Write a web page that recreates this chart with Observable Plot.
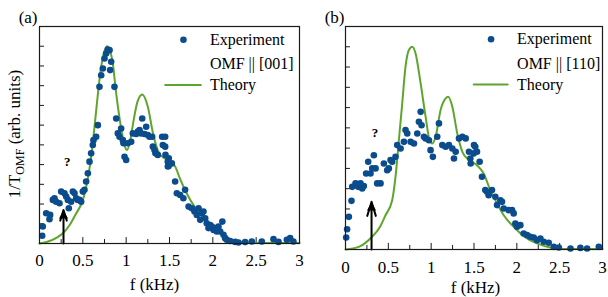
<!DOCTYPE html>
<html><head><meta charset="utf-8">
<script src="https://cdn.jsdelivr.net/npm/d3@7"></script>
<script src="https://cdn.jsdelivr.net/npm/@observablehq/plot@0.6"></script>
<style>
body{margin:0;background:#fff;}
#wrap{position:relative;width:608px;height:297px;}
#pa{position:absolute;left:0;top:0;z-index:2;}
#pb{position:absolute;left:300px;top:0;z-index:1;}
svg{overflow:visible;background:none !important;}
svg text{font-family:"Liberation Serif","Times New Roman",serif !important;}
</style></head><body><div id="wrap"><div id="pa"></div><div id="pb"></div></div>
<script>
// ---- data ----
const xMajor = [0, 0.5, 1, 1.5, 2, 2.5, 3];
const xMinor = [0.25, 0.75, 1.25, 1.75, 2.25, 2.75];
const yTicks = [1, 2, 3, 4, 5, 6, 7, 8, 9, 10];

// panel (a): OMF || [001]
const expA = [
[0.031,0.39],[0.038,0.86],[0.077,1.53],[0.123,1.45],[0.115,1.23],[0.154,2.21],[0.173,2.29],[0.192,2.12],
[0.231,2.04],[0.25,2.63],[0.288,2.55],[0.308,2.38],[0.338,1.79],[0.327,2.21],[0.365,2.12],[0.385,2.63],
[0.404,2.55],[0.423,2.29],[0.442,2.21],[0.462,2.21],[0.481,2.12],[0.5,2.63],[0.519,2.72],[0.538,3.14],
[0.558,3.56],[0.577,4.15],[0.596,4.57],[0.615,4.99],[0.623,5.24],[0.654,5.41],[0.673,6.0],[0.692,7.94],
[0.712,8.53],[0.731,8.87],[0.75,9.38],[0.769,9.63],[0.788,9.83],[0.808,9.8],[0.827,9.21],[0.815,8.79],
[0.865,7.94],[0.885,6.34],[0.904,5.58],[0.923,5.41],[0.942,5.83],[0.962,5.24],[0.969,5.08],[0.981,4.4],
[1.0,4.23],[1.019,5.08],[1.058,5.16],[1.077,5.58],[1.115,5.55],[1.135,5.67],[1.154,5.75],[1.185,6.34],
[1.173,5.58],[1.212,5.55],[1.231,5.92],[1.25,5.5],[1.269,5.41],[1.3,5.41],[1.308,4.91],[1.327,4.74],
[1.338,4.57],[1.365,4.49],[1.415,5.41],[1.423,4.99],[1.454,4.49],[1.481,3.9],[1.492,4.32],
[1.45,5.41],[1.45,4.91],[1.48,4.15],[1.49,3.93],[1.527,4.06],[1.565,3.14],[1.585,2.55],[1.623,2.46],
[1.66,2.29],[1.68,2.72],[1.72,1.87],[1.758,1.79],[1.788,1.62],[1.815,1.45],[1.835,1.79],[1.854,1.2],
[1.873,1.53],[1.892,1.62],[1.912,1.28],[1.93,1.03],[1.95,0.78],[1.97,0.94],[1.988,0.86],[2.008,0.69],
[2.027,0.78],[2.046,0.61],[2.065,0.86],[2.085,0.61],[2.11,1.11],[2.123,0.44],[2.142,0.27],[2.16,0.19],
[2.2,0.13],[2.258,0.08],[2.296,0.05],[2.373,0.07],[2.45,0.1],[2.565,0.1],[2.7,0.22],[2.758,0.08],
[2.854,0.19],[2.892,0.27],[2.93,0.1]
];
const theoryA = [
[0,0],[0.1,0.1],[0.2,0.3],[0.27,0.52],[0.35,0.95],[0.42,1.5],[0.5,2.2],[0.54,2.9],[0.58,3.9],
[0.62,5.3],[0.66,7.0],[0.7,8.6],[0.74,9.6],[0.78,10.0],[0.81,9.8],[0.84,9.3],[0.885,7.6],[0.94,5.9],
[0.98,5.0],[1.01,4.74],[1.05,5.3],[1.08,6.09],[1.13,7.18],[1.185,7.55],[1.25,6.93],[1.31,5.58],
[1.38,4.57],[1.45,4.3],[1.51,4.17],[1.565,3.9],[1.62,3.3],[1.68,2.7],[1.8,1.79],[1.91,1.2],[2.03,0.69],
[2.14,0.35],[2.26,0.13],[2.41,0.05],[2.6,0.02],[3.0,0.02]
];
const arrowA = [0.277, 1.7];

// panel (b): OMF || [110]
const expB = [
[0.008,0.59],[0.019,1.0],[0.039,1.61],[0.07,2.4],[0.078,3.09],[0.117,3.26],[0.148,3.09],[0.175,3.26],
[0.195,3.01],[0.214,3.13],[0.241,3.75],[0.265,4.33],[0.292,3.75],[0.312,4.0],[0.331,4.65],[0.351,4.0],
[0.37,3.26],[0.409,3.26],[0.448,4.24],[0.487,3.91],[0.506,4.0],[0.526,4.41],[0.545,4.33],[0.584,4.57],
[0.604,5.15],[0.643,4.98],[0.682,5.31],[0.701,5.89],[0.721,5.72],[0.76,5.31],[0.799,5.23],[0.838,5.72],
[0.857,6.3],[0.877,6.79],[0.888,6.13],[0.916,5.56],[0.935,5.48],[0.974,5.39],[0.993,4.9],[1.02,4.57],
[1.071,5.56],[1.091,6.22],[1.13,5.15],[1.169,5.07],[1.208,5.15],[1.247,4.98],[1.266,4.49],[1.286,4.82],
[1.325,5.48],[1.364,5.56],[1.403,5.48],[1.441,4.82],[1.461,4.24],[1.5,5.15],
[1.457,4.49],[1.496,4.74],[1.515,5.07],[1.535,4.82],[1.566,4.33],[1.593,3.59],[1.632,2.93],[1.652,2.85],
[1.671,2.68],[1.71,2.93],[1.749,2.6],[1.769,2.19],[1.808,2.43],[1.827,2.35],[1.847,2.02],[1.905,1.94],
[1.944,1.94],[1.963,1.78],[1.983,1.28],[2.003,1.12],[2.041,1.2],[2.08,0.79],[2.119,0.71],[2.158,0.63],
[2.197,0.59],[2.236,0.46],[2.275,0.54],[2.314,0.38],[2.372,0.33],[2.431,0.13],[2.49,0.1],[2.626,0.05],
[2.742,0.08],[2.82,0.05],[2.957,0.13]
];
const theoryB = [
[0,0],[0.156,0.13],[0.31,0.63],[0.4,1.1],[0.467,1.69],[0.545,2.43],[0.584,3.59],[0.623,5.39],
[0.662,7.2],[0.7,9.0],[0.74,9.84],[0.779,10],[0.818,9.67],[0.877,8.19],[0.935,6.55],[0.982,5.39],
[1.013,5.23],[1.052,5.56],[1.11,6.88],[1.169,7.45],[1.2,7.53],[1.247,7.04],[1.305,5.72],[1.364,4.82],
[1.441,4.41],[1.535,4.16],[1.613,3.75],[1.69,2.93],[1.769,2.27],[1.847,1.69],[1.963,1.12],[2.08,0.66],
[2.236,0.3],[2.39,0.1],[2.55,0.03],[3.0,0.02]
];
const arrowB = [0.304, 2.35];

const BLUE = "#0b4c8c";
const GREEN = "#5ea52e";
const FONT = "'Liberation Serif', 'Times New Roman', serif";

function makePanel(c) {
  const ink = "#1a1a1a";
  return Plot.plot({
    width: c.width, height: 297,
    marginLeft: c.ml, marginRight: c.mr, marginTop: 26, marginBottom: c.mb,
    style: {fontFamily: FONT, fontSize: "17px", color: "black", background: "none", overflow: "visible"},
    x: {domain: [0, 3], label: null},
    y: {domain: [0, 11], axis: null},
    marks: [
      Plot.ruleY(yTicks, {y: d => d, x1: 0, x2: 0.058, stroke: ink, strokeWidth: 1}),
      Plot.ruleX(xMajor.slice(1, -1), {x: d => d, y1: 0, y2: c.maj, stroke: ink, strokeWidth: 1}),
      Plot.ruleX(xMinor, {x: d => d, y1: 0, y2: c.min, stroke: ink, strokeWidth: 1}),
      Plot.axisX({ticks: xMajor, tickSize: 0, tickPadding: c.pad, tickFormat: d => String(d), fontSize: 17, fontFamily: FONT}),
      Plot.line(c.theory, {x: d => d[0], y: d => d[1], stroke: GREEN, strokeWidth: 2, curve: "monotone-x"}),
      Plot.dot(c.exp, {x: d => d[0], y: d => d[1], r: 3.3, fill: BLUE, stroke: "none"}),
      Plot.arrow([c.arrow], {x1: d => d[0], y1: 0, x2: d => d[0], y2: d => d[1], stroke: "black", strokeWidth: 2, headLength: 11, headAngle: 34}),
      Plot.dot([c.arrow], {x: d => d[0], y: d => d[1], symbol: "triangle", r: 3.4, dy: 6, fill: "black", stroke: "none"}),
      Plot.text(["?"], {x: c.q[0], y: c.q[1], fontWeight: "bold", fontSize: 13, fontFamily: FONT}),
      // legend
      Plot.dot([0], {x: c.leg.dx, y: c.leg.y0, r: 3.3, fill: BLUE}),
      Plot.text(["Experiment", c.omf, "Theory"], {x: c.leg.tx, y: (d, i) => c.leg.ys[i], textAnchor: "start", lineAnchor: "middle", fontSize: 16, fontFamily: FONT}),
      Plot.line([[c.leg.l0, c.leg.ys[2]], [c.leg.l1, c.leg.ys[2]]], {x: d => d[0], y: d => d[1], stroke: GREEN, strokeWidth: 2}),
      // labels
      Plot.text([c.tag], {frameAnchor: "top-left", textAnchor: "end", lineAnchor: "middle", dx: c.tagDx, dy: -9, fontSize: 17, fontFamily: FONT}),
      Plot.text(["f (kHz)"], {frameAnchor: "bottom", lineAnchor: "middle", dx: c.fx, dy: c.fy, fontSize: 17, fontFamily: FONT}),
      Plot.frame({stroke: ink, strokeWidth: 1.2})
    ]
  });
}

const pa = makePanel({
  width: 300, ml: 39, mr: 1, mb: 54, maj: 0.3, min: 0.2, pad: 10,
  exp: expA, theory: theoryA, arrow: arrowA, q: [0.319, 4.15],
  omf: "OMF || [001]",
  leg: {dx: 1.661, y0: 10.33, tx: 1.966, ys: [10.34, 9.10, 8.03], l0: 1.45, l1: 1.862},
  tag: "(a)", tagDx: -2, fx: -15, fy: 41
});
const pb = makePanel({
  width: 308, ml: 45, mr: 6, mb: 48, maj: 0.3, min: 0.2, pad: 11,
  exp: expB, theory: theoryB, arrow: arrowB, q: [0.344, 5.74],
  omf: "OMF || [110]",
  leg: {dx: 1.699, y0: 10.37, tx: 2.003, ys: [10.38, 9.17, 8.14], l0: 1.496, l1: 1.893},
  tag: "(b)", tagDx: -1, fx: 1.5, fy: 38
});
document.getElementById("pa").appendChild(pa);
document.getElementById("pb").appendChild(pb);

// y-axis label with subscript
const yl = d3.select(pa).append("text")
  .attr("transform", "translate(20,134) rotate(-90)")
  .attr("text-anchor", "middle")
  .attr("font-family", FONT).attr("font-size", 17).attr("fill", "black");
yl.append("tspan").text("1/T");
yl.append("tspan").attr("dy", 4).attr("font-size", 12).text("OMF");
yl.append("tspan").attr("dy", -4).text(" (arb. units)");
</script>
</body></html>
